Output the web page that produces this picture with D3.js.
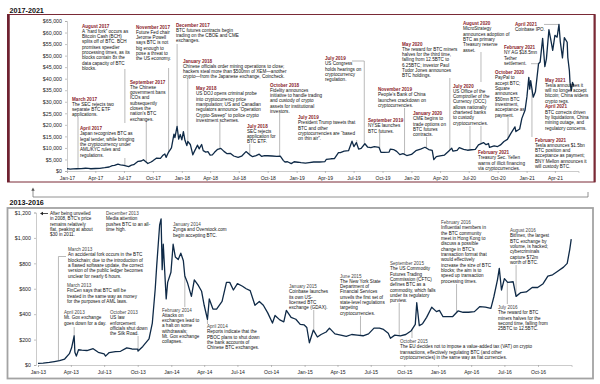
<!DOCTYPE html>
<html lang="en">
<head>
<meta charset="UTF-8">
<title>BTC price history</title>
<script src="https://cdn.jsdelivr.net/npm/d3@7"></script>
<style>
  body { margin: 0; background: #fff; }
  svg { font-family: "Liberation Sans", Arial, sans-serif; }
</style>
</head>
<body>
<div id="chart"></div>
<script>
// ---- BTC price, 2017-2021 (USD) ----
var dates17 = ["2017-01-01","2017-01-11","2017-01-20","2017-02-01","2017-02-15","2017-03-01","2017-03-10","2017-03-18",
  "2017-04-01","2017-04-15","2017-05-01","2017-05-15","2017-05-25","2017-06-01","2017-06-12","2017-06-20","2017-07-01",
  "2017-07-16","2017-07-25","2017-08-01","2017-08-15","2017-08-25","2017-09-01","2017-09-15","2017-09-25","2017-10-01",
  "2017-10-13","2017-10-25","2017-11-01","2017-11-08","2017-11-12","2017-11-20","2017-11-29","2017-12-07","2017-12-10",
  "2017-12-17","2017-12-22","2017-12-27","2018-01-01","2018-01-06","2018-01-11","2018-01-17","2018-01-20","2018-01-28",
  "2018-02-05","2018-02-10","2018-02-20","2018-02-25","2018-03-05","2018-03-10","2018-03-18","2018-03-25","2018-04-01",
  "2018-04-08","2018-04-15","2018-04-25","2018-05-05","2018-05-15","2018-05-25","2018-06-05","2018-06-15","2018-06-29",
  "2018-07-10","2018-07-24","2018-08-05","2018-08-14","2018-08-25","2018-09-04","2018-09-12","2018-09-21","2018-10-01",
  "2018-10-15","2018-10-30","2018-11-10","2018-11-20","2018-11-25","2018-12-03","2018-12-15","2018-12-24","2019-01-05",
  "2019-01-15","2019-01-29","2019-02-10","2019-02-24","2019-03-15","2019-04-01","2019-04-05","2019-04-20","2019-05-01",
  "2019-05-14","2019-05-20","2019-06-01","2019-06-15","2019-06-26","2019-07-02","2019-07-10","2019-07-17","2019-07-25",
  "2019-08-06","2019-08-15","2019-08-25","2019-09-05","2019-09-20","2019-09-26","2019-10-05","2019-10-22","2019-10-26",
  "2019-11-05","2019-11-15","2019-11-25","2019-12-05","2019-12-17","2020-01-01","2020-01-15","2020-01-30","2020-02-13",
  "2020-02-25","2020-03-07","2020-03-12","2020-03-20","2020-04-01","2020-04-15","2020-04-29","2020-05-08","2020-05-12",
  "2020-05-25","2020-06-01","2020-06-15","2020-06-27","2020-07-10","2020-07-22","2020-08-01","2020-08-17","2020-08-25",
  "2020-09-02","2020-09-05","2020-09-20","2020-10-01","2020-10-10","2020-10-21","2020-11-01","2020-11-12","2020-11-25",
  "2020-11-28","2020-12-10","2020-12-17","2020-12-27","2021-01-02","2021-01-08","2021-01-11","2021-01-14","2021-01-22",
  "2021-01-29","2021-02-08","2021-02-13","2021-02-21","2021-02-28","2021-03-05","2021-03-13","2021-03-18","2021-03-25",
  "2021-04-01","2021-04-08","2021-04-14","2021-04-18","2021-04-25","2021-05-01","2021-05-10","2021-05-12","2021-05-17",
  "2021-05-19","2021-05-23","2021-05-27","2021-06-01"];
var prices17 = [1000,780,895,985,1010,1190,1110,970,
  1085,1180,1420,1740,2300,2400,2950,2700,2450,
  1930,2550,2730,4200,4330,4900,3250,3900,4400,
  5600,5500,6700,7400,5900,8200,10000,16000,14500,
  19300,13800,15800,13500,17100,13300,11000,12800,11500,
  7000,8500,11200,9600,11500,8800,8200,8400,6900,
  7000,8100,9400,9800,8500,7500,7600,6500,5900,
  6400,8400,7000,6200,6700,7300,6300,6700,6600,
  6500,6300,6400,4500,3900,4000,3200,4000,3800,
  3600,3450,3650,3900,3900,4100,5000,5300,5400,
  8000,8000,8600,8800,12900,10600,12300,9500,9800,
  11800,10300,10100,10600,10200,8100,8100,8200,9500,
  9300,8500,7100,7500,6700,7200,8800,9500,10300,
  9300,8900,4900,6200,6600,6900,8700,9900,8600,
  8900,10100,9400,9000,9200,9400,11300,12300,11400,
  11900,10200,10900,10600,11300,12800,13700,16300,19100,
  17100,18200,22800,26300,32100,40600,35500,39200,32000,
  34300,46500,47200,57500,45200,48600,61200,57600,52300,
  58800,58000,63500,56200,49000,57800,55800,49200,43500,
  38500,34700,38400,36700];

// ---- BTC price, 2013-2016 (USD) ----
var dates13 = ["2013-01-01","2013-01-15","2013-02-01","2013-02-15","2013-03-01","2013-03-15","2013-03-28","2013-04-03",
  "2013-04-10","2013-04-12","2013-04-16","2013-04-22","2013-05-01","2013-05-15","2013-06-01","2013-06-15","2013-07-01",
  "2013-07-05","2013-07-15","2013-08-01","2013-08-15","2013-09-01","2013-09-15","2013-10-01","2013-10-02","2013-10-15",
  "2013-11-01","2013-11-10","2013-11-18","2013-11-22","2013-11-30","2013-12-04","2013-12-07","2013-12-10","2013-12-18",
  "2013-12-22","2013-12-31","2014-01-06","2014-01-12","2014-01-20","2014-01-27","2014-02-03","2014-02-07","2014-02-14",
  "2014-02-25","2014-03-05","2014-03-15","2014-03-25","2014-04-01","2014-04-10","2014-04-15","2014-04-25","2014-05-05",
  "2014-05-20","2014-06-01","2014-06-10","2014-06-20","2014-07-01","2014-07-15","2014-07-25","2014-08-05","2014-08-18",
  "2014-08-30","2014-09-10","2014-09-22","2014-10-05","2014-10-12","2014-10-25","2014-11-05","2014-11-12","2014-11-25",
  "2014-12-08","2014-12-20","2014-12-31","2015-01-07","2015-01-14","2015-01-25","2015-02-05","2015-02-15","2015-03-01",
  "2015-03-10","2015-03-25","2015-04-10","2015-04-25","2015-05-10","2015-05-25","2015-06-10","2015-06-25","2015-07-10",
  "2015-07-25","2015-08-05","2015-08-18","2015-08-24","2015-09-05","2015-09-20","2015-10-05","2015-10-20","2015-10-31",
  "2015-11-04","2015-11-11","2015-11-20","2015-12-01","2015-12-15","2015-12-28","2016-01-05","2016-01-15","2016-01-28",
  "2016-02-10","2016-02-25","2016-03-10","2016-03-25","2016-04-10","2016-04-25","2016-05-10","2016-05-25","2016-06-02",
  "2016-06-12","2016-06-17","2016-06-23","2016-07-01","2016-07-10","2016-07-25","2016-08-02","2016-08-15","2016-08-30",
  "2016-09-15","2016-09-30","2016-10-15","2016-10-28","2016-11-10","2016-11-25","2016-12-10","2016-12-20","2016-12-27",
  "2016-12-31"];
var prices13 = [13.5,14.2,20,27,34,47,89,135,
  230,100,70,120,117,114,128,100,88,
  70,98,105,108,135,126,125,110,146,
  205,330,600,780,1100,1150,750,950,520,
  650,730,950,850,830,880,820,700,650,
  540,670,630,580,470,360,520,440,440,
  500,650,650,590,640,620,600,585,470,
  500,470,410,330,390,355,340,430,375,
  360,320,315,295,175,275,220,240,260,
  290,245,235,225,240,235,230,245,290,
  290,280,250,210,235,230,240,270,320,
  490,310,325,375,455,420,430,380,380,
  380,425,415,415,420,460,455,445,535,
  670,760,590,680,650,655,540,570,575,
  610,610,640,700,710,740,770,800,910,
  990];

var yTicksTop = [0,5000,10000,15000,20000,25000,30000,35000,40000,45000,50000,55000,60000,65000];
var yTicksBottom = [0,200,400,600,800,1000,1200];
var panelTitles = ["2017-2021", "2013-2016"];

// ---- annotations: text and the date each one points at ----
var notesTop = [
  {date: "2017-02-05", title: "March 2017", lines: ["The SEC rejects two","separate BTC ETF","applications."]},
  {title: "April 2017", lines: ["Japan recognizes BTC as","legal tender, while bringing","the cryptocurrency under","AML/KYC rules and","regulations."]},
  {date: "2017-07-04", title: "August 2017", lines: ["A \u201chard fork\u201d occurs as","Bitcoin Cash (BCH)","splits off of BTC. BCH","promises speedier","processing times, as its","blocks contain 8x the","data capacity of BTC","blocks."]},
  {date: "2017-09-10", title: "September 2017", lines: ["The Chinese","government bans","ICOs and","subsequently","closes the","nation\u2019s BTC","exchanges."]},
  {date: "2017-11-20", title: "November 2017", lines: ["Future Fed chair","Jerome Powell","says BTC is not","big enough to","pose a threat to","the US economy."]},
  {date: "2017-12-17", title: "December 2017", lines: ["BTC futures contracts begin","trading on the CBOE and CME","exchanges."]},
  {date: "2018-01-20", title: "January 2018", lines: ["Chinese officials order mining operations to close;","hackers steal more than $500mn of XEM\u2014another","crypto\u2014from the Japanese exchange, Coincheck."]},
  {date: "2018-05-02", title: "May 2018", lines: ["US DOJ opens criminal probe","into cryptocurrency price","manipulation; US and Canadian","regulators announce \u201cOperation","Crypto-Sweep\u201d to police crypto","investment schemes."]},
  {date: "2018-08-05", title: "July 2018", lines: ["SEC rejects","application for","BTC ETF."]},
  {date: "2018-11-08", title: "October 2018", lines: ["Fidelity announces","initiative to handle trading","and custody of crypto","assets for institutional","investors."]},
  {date: "2019-08-04", title: "July 2019", lines: ["US Congress","holds hearings on","cryptocurrency","regulation."]},
  {date: "2019-07-11", title: "July 2019", lines: ["President Trump tweets that","BTC and other","cryptocurrencies are \u201cbased","on thin air\u201d."]},
  {date: "2019-09-22", title: "September 2019", lines: ["NYSE launches","BTC futures."]},
  {date: "2019-12-10", title: "November 2019", lines: ["People\u2019s Bank of China","launches crackdown on","cryptocurrencies."]},
  {date: "2020-02-18", title: "January 2020", lines: ["CME begins to","trade options on","BTC futures","contracts."]},
  {date: "2020-05-02", title: "May 2020", lines: ["The reward for BTC miners","halves for the third time,","falling from 12.5BTC to","6.25BTC; investor Paul","Tudor Jones announces","BTC holdings."]},
  {date: "2020-08-09", title: "August 2020", lines: ["MicroStrategy","announces adoption of","BTC as primary","Treasury reserve","asset."]},
  {date: "2020-07-05", title: "July 2020", lines: ["US Office of the","Comptroller of the","Currency (OCC)","allows nationally","chartered banks","to custody","cryptocurrencies."]},
  {date: "2020-11-03", title: "October 2020", lines: ["PayPal to","accept BTC;","Square","announces","$50mn BTC","investment,","acceptance as","payment."]},
  {date: "2021-02-08", title: "February 2021", lines: ["NY AG $18.5mn","Tether","settlement."]},
  {date: "2021-04-14", title: "April 2021", lines: ["Coinbase IPO."]},
  {title: "May 2021", lines: ["Tesla announces it","will no longer accept","bitcoin; China widens","crypto regs."]},
  {title: "April 2021", lines: ["BTC corrects driven","by liquidations, China","mining outage, and","regulatory concerns."]},
  {date: "2021-01-18", title: "February 2021", lines: ["Tesla announces $1.5bn","BTC position and","acceptance as payment;","BNY Mellon announces it","will custody BTC."]},
  {title: "February 2021", lines: ["Treasury Sec. Yellen","warns of illicit financing","via cryptocurrencies."]}
];

var notesBottom = [
  {lines: ["After being unveiled","in 2008, BTC\u2019s price","remains relatively","flat, peaking at about","$30 in 2011."]},
  {title: "December 2013", lines: ["Media attention","pushes BTC to an all-","time high."]},
  {title: "January 2014", lines: ["Zynga and Overstock.com","begin accepting BTC."]},
  {date: "2013-02-26", title: "March 2013", lines: ["An accidental fork occurs in the BTC","blockchain; due to the introduction of","a flawed software update, the correct","version of the public ledger becomes","unclear for nearly 6 hours."]},
  {title: "March 2013", lines: ["FinCen says that BTC will be","treated in the same way as money","for the purposes of AML laws."]},
  {date: "2013-04-10", title: "April 2013", lines: ["Mt. Gox exchange","goes down for a day."]},
  {date: "2013-10-02", title: "October 2013", lines: ["US law","enforcement","officials shut down","the Silk Road."]},
  {date: "2014-02-07", title: "February 2014", lines: ["Attacks on","exchanges lead to","a halt on some","withdrawals;","Mt. Gox exchange","collapses."]},
  {date: "2014-04-10", title: "April 2014", lines: ["Reports indicate that the","PBOC plans to shut down","the bank accounts of","Chinese BTC exchanges."]},
  {date: "2015-01-26", title: "January 2015", lines: ["Coinbase launches","its own US-","licensed BTC","exchange (GDAX)."]},
  {date: "2015-06-03", title: "June 2015", lines: ["The New York State","Department of","Financial Services","unveils the first set of","state-level regulations","targeting","cryptocurrencies."]},
  {date: "2015-09-17", title: "September 2015", lines: ["The US Commodity","Futures Trading","Commission (CFTC)","defines BTC as a","commodity, which falls","under its regulatory","purview."]},
  {date: "2015-10-22", title: "October 2015", lines: ["The EU decides not to impose a value-added tax (VAT) on crypto","transactions, effectively regulating BTC (and other","cryptocurrencies) in the same way as fiat currencies."]},
  {date: "2016-02-21", title: "February 2016", lines: ["Influential members in","the BTC community","meet in Hong Kong to","discuss a possible","change in BTC\u2019s","transaction format that","would effectively","increase the size of BTC","blocks; the aim is to","speed up transaction","processing times."]},
  {date: "2016-08-02", title: "August 2016", lines: ["Bitfinex, the largest","BTC exchange by","volume, is hacked;","cybercriminals","capture $72m","worth of BTC."]},
  {date: "2016-07-09", title: "July 2016", lines: ["The reward for BTC","miners halves for the","second time, falling from","25BTC to 12.5BTC."]}
];

// ---- where each annotation sits (text x / title baseline, leader start) ----
// v: vertical leader from this y to the price; gap: skip that y range
// h: horizontal leader from this x at the price level; b: [x, y] elbow leader
var layoutTop = [
  {x: 72, y: 100.5, v: 117},
  {x: 80, y: 130},
  {x: 82, y: 27.5, v: 69, gap: [123, 158]},
  {x: 130, y: 83.5, v: 121},
  {x: 136, y: 28.5, v: 68},
  {x: 176, y: 26.5, v: 44},
  {x: 183, y: 62.5, v: 79},
  {x: 196, y: 90, v: 122},
  {x: 247, y: 127.5, v: 144},
  {x: 270, y: 86.5, v: 113},
  {x: 325, y: 60, b: [352, 61]},
  {x: 298, y: 119, v: 140},
  {x: 368, y: 122, v: 133},
  {x: 378, y: 91, v: 108},
  {x: 413, y: 115, v: 137},
  {x: 402, y: 45.5, v: 78},
  {x: 463, y: 25, v: 52, gap: [82, 126]},
  {x: 453, y: 87.5, v: 126},
  {x: 495, y: 74, v: 117},
  {x: 504, y: 49, h: 531},
  {x: 515, y: 25.5, h: 544},
  {x: 545, y: 81.5},
  {x: 545, y: 108.2},
  {x: 535, y: 141.5, v: 137},
  {x: 478, y: 154}
];
var layoutBottom = [
  {x: 50, y: 215, arrow: true},
  {x: 106, y: 215},
  {x: 173, y: 226},
  {x: 68, y: 251, b: [66, 256.5]},
  {x: 67, y: 287},
  {x: 64, y: 314, v: 327},
  {x: 110, y: 314, v: 336},
  {x: 162, y: 311.5, v: 307},
  {x: 207, y: 328, v: 324},
  {x: 289, y: 288, v: 310},
  {x: 340, y: 277.5, v: 316},
  {x: 390, y: 265, v: 303},
  {x: 400, y: 343, v: 338},
  {x: 441, y: 224, v: 284},
  {x: 510, y: 232, v: 265},
  {x: 498, y: 309, v: 304}
];

var parse = d3.timeParse("%Y-%m-%d");
var fmt = d3.timeFormat("%b-%y");
var lineH = 5.33;
var priceColor = "#0f2a47";

var topSeries = dates17.map(function(d, i) { return {date: parse(d), value: prices17[i]}; });
var botSeries = dates13.map(function(d, i) { return {date: parse(d), value: prices13[i]}; });

var svg = d3.select("#chart").append("svg")
    .attr("width", 600)
    .attr("height", 384);

// scales
var xTop = d3.scaleTime().domain([parse("2017-01-01"), parse("2021-06-15")]).range([67, 578.5]);
var yTop = d3.scaleLinear().domain([0, 65000]).range([171, 21]);
var xBot = d3.scaleTime().domain([parse("2013-01-01"), parse("2017-01-01")]).range([38, 571.6]);
var yBot = d3.scaleLinear().domain([0, 1200]).range([365, 212.5]);

// panel frames
svg.append("rect").attr("x", 7.5).attr("y", 14.5).attr("width", 587.5).attr("height", 167.5)
    .attr("fill", "none").attr("stroke", "#7a2a36").attr("stroke-width", 1);
svg.append("line").attr("x1", 8.5).attr("x2", 8.5).attr("y1", 14.5).attr("y2", 182)
    .attr("stroke", "#6e2130").attr("stroke-width", 2.5);
svg.append("line").attr("x1", 594.5).attr("x2", 594.5).attr("y1", 14.5).attr("y2", 182)
    .attr("stroke", "#7a2a36").attr("stroke-width", 2);
svg.append("rect").attr("x", 7.5).attr("y", 208).attr("width", 585.5).attr("height", 170.5)
    .attr("fill", "none").attr("stroke", "#a3a3a3").attr("stroke-width", 1.8);

svg.selectAll("text.ptitle").data(panelTitles).enter().append("text")
    .attr("class", "ptitle")
    .attr("x", 9.5)
    .attr("y", function(d, i) { return i === 0 ? 13 : 205; })
    .attr("font-size", 7.2).attr("font-weight", "bold").attr("fill", "#111")
    .text(function(d) { return d; });

// connector between the panels
var conX0 = xBot.range()[0] - 5, conX1 = xTop.range()[1] + 9.5;
svg.append("path")
    .attr("d", "M" + conX0 + ",190V197H" + conX1 + "V192")
    .attr("fill", "none").attr("stroke", "#777").attr("stroke-width", 0.8);
svg.append("path")
    .attr("d", "M" + conX0 + ",187.5l-1.7,3.2h3.4z")
    .attr("fill", "#555");

function styleAxis(g, size) {
    g.select(".domain").attr("stroke", "#b5b5b5").attr("stroke-width", 0.7);
    g.selectAll(".tick line").attr("stroke", "#999").attr("stroke-width", 0.6);
    g.selectAll(".tick text").attr("fill", "#222").attr("font-size", size)
        .attr("font-family", "'Liberation Sans', Arial, sans-serif");
}

// axes: top
var gxTop = svg.append("g").attr("transform", "translate(0," + yTop(0) + ")")
    .call(d3.axisBottom(xTop)
        .tickValues(d3.timeMonth.range(parse("2017-01-01"), parse("2021-04-02"), 3))
        .tickFormat(fmt).tickSize(2).tickPadding(3));
styleAxis(gxTop, 5);
var gyTop = svg.append("g").attr("transform", "translate(" + xTop.range()[0] + ",0)")
    .call(d3.axisLeft(yTop).tickValues(yTicksTop).tickFormat(d3.format("$,")).tickSize(2).tickPadding(3));
styleAxis(gyTop, 5.3);

// axes: bottom
var gxBot = svg.append("g").attr("transform", "translate(0," + yBot(0) + ")")
    .call(d3.axisBottom(xBot)
        .tickValues(d3.timeMonth.range(parse("2013-01-01"), parse("2016-10-02"), 3))
        .tickFormat(fmt).tickSize(2).tickPadding(3));
styleAxis(gxBot, 5);
var gyBot = svg.append("g").attr("transform", "translate(" + (xBot.range()[0] - 2) + ",0)")
    .call(d3.axisLeft(yBot).tickValues(yTicksBottom).tickFormat(d3.format("$,")).tickSize(2).tickPadding(3));
styleAxis(gyBot, 5.3);

function priceAt(series, d) {
    var i = d3.bisector(function(p) { return p.date; }).left(series, d);
    if (i <= 0) return series[0].value;
    if (i >= series.length) return series[series.length - 1].value;
    var a = series[i - 1], b = series[i];
    var t = (d - a.date) / (b.date - a.date);
    return a.value + t * (b.value - a.value);
}

function drawLeaders(g, notes, layout, x, y, series) {
    notes.forEach(function(n, i) {
        var p = layout[i];
        if (!n.date) return;
        var d = parse(n.date), px = x(d), py = y(priceAt(series, d));
        var path;
        if (p.v !== undefined) {
            path = p.gap ? "M" + px + "," + p.v + "V" + p.gap[0] + "M" + px + "," + p.gap[1] + "V" + py
                         : "M" + px + "," + p.v + "V" + py;
        } else if (p.h !== undefined) {
            path = "M" + p.h + "," + py + "H" + px;
        } else if (p.b) {
            path = "M" + p.b[0] + "," + p.b[1] + "H" + px + "V" + py;
        }
        if (path) {
            g.append("path").attr("d", path).attr("fill", "none")
                .attr("stroke", "#8c8c8c").attr("stroke-width", 0.6);
        }
    });
}

function drawNotes(g, notes, layout, titleColor, titleWeight) {
    notes.forEach(function(n, i) {
        var p = layout[i];
        var t = g.append("text").attr("x", p.x).attr("y", p.y).attr("font-size", 4.6);
        var first = true;
        if (n.title) {
            t.append("tspan").attr("x", p.x).attr("dy", 0)
                .attr("fill", titleColor).attr("font-weight", titleWeight).text(n.title);
            first = false;
        }
        n.lines.forEach(function(l) {
            t.append("tspan").attr("x", p.x).attr("dy", first ? 0 : lineH).attr("fill", "#111").text(l);
            first = false;
        });
        if (p.arrow) {
            var ay = p.y - 1.5;
            g.append("line").attr("x1", p.x - 2).attr("x2", p.x - 8).attr("y1", ay).attr("y2", ay)
                .attr("stroke", "#222").attr("stroke-width", 0.8);
            g.append("path").attr("d", "M" + (p.x - 10) + "," + ay + "l3,-1.8v3.6z").attr("fill", "#222");
        }
    });
}

var leaderLayer = svg.append("g");
drawLeaders(leaderLayer, notesTop, layoutTop, xTop, yTop, topSeries);
drawLeaders(leaderLayer, notesBottom, layoutBottom, xBot, yBot, botSeries);

// price lines
svg.append("path").datum(topSeries)
    .attr("fill", "none").attr("stroke", priceColor).attr("stroke-width", 1.3)
    .attr("stroke-linejoin", "round")
    .attr("d", d3.line().x(function(d) { return xTop(d.date); }).y(function(d) { return yTop(d.value); }));
svg.append("path").datum(botSeries)
    .attr("fill", "none").attr("stroke", priceColor).attr("stroke-width", 1.3)
    .attr("stroke-linejoin", "round")
    .attr("d", d3.line().x(function(d) { return xBot(d.date); }).y(function(d) { return yBot(d.value); }));

var noteLayer = svg.append("g");
drawNotes(noteLayer, notesTop, layoutTop, "#8a1c2b", "bold");
drawNotes(noteLayer, notesBottom, layoutBottom, "#444", "normal");
</script>
</body>
</html>
